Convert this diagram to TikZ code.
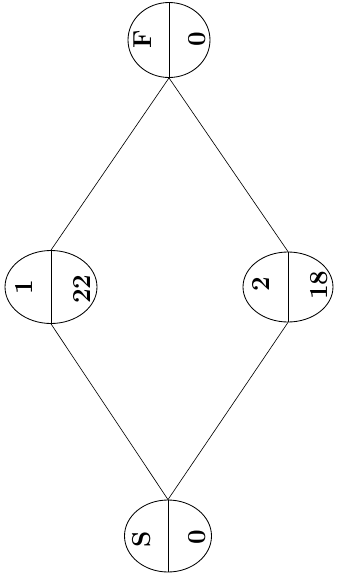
\documentclass[tikz,border=0pt]{standalone}
\usepackage{tikz}
\usetikzlibrary{positioning,calc,shapes.geometric}

\begin{document}
\begin{tikzpicture}[
  x=0.05cm, y=-0.05cm,
  evnode/.style={draw, ellipse, line width=1.2pt, minimum width=4.4cm, minimum height=3.6cm, inner sep=0pt},
  evtext/.style={rotate=90, font=\fontsize{37}{40}\selectfont\bfseries, inner sep=0pt},
  act/.style={line width=0.9pt},
]
\useasboundingbox (0,0) rectangle (338,586);

% events (page turned a quarter)
\node[evnode, minimum width=4.1cm, minimum height=3.75cm] (f) at (169,40) {};
\node[evnode, minimum width=4.6cm, minimum height=3.65cm] (e1) at (51,287) {};
\node[evnode, minimum width=4.5cm, minimum height=3.5cm] (e2) at (288,287) {};
\node[evnode, minimum width=4.35cm, minimum height=3.6cm] (s) at (168,536) {};

\foreach \n in {f,e1,e2,s}
  \draw[act] (\n.north) -- (\n.south);

% labels
\node[evtext] (ft) at (143,39) {F};
\node[evtext] (fv) at (197,39) {0};
\node[evtext] (e1t) at (24,287) {1};
\node[evtext] (e1v) at (82,289) {22};
\node[evtext] (e2t) at (261,284) {2};
\node[evtext] (e2v) at (319,285) {18};
\node[evtext] (st) at (142,539) {S};
\node[evtext] (sv) at (197,537) {0};

% activities
\draw[act] (s.north) -- (e1.south);
\draw[act] (s.north) -- (e2.south);
\draw[act] (e1.north) -- (f.south);
\draw[act] (e2.north) -- (f.south);

\end{tikzpicture}
\end{document}
